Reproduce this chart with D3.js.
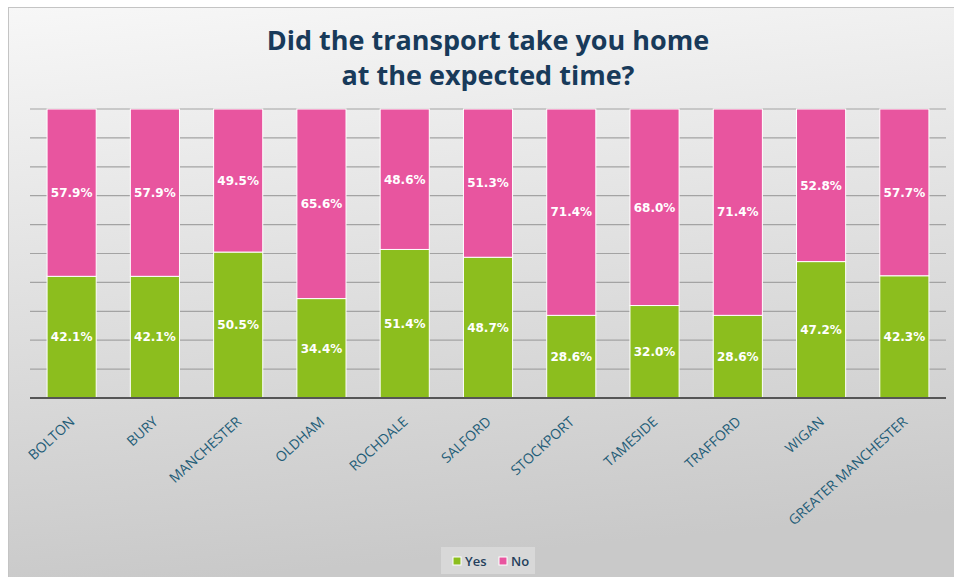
<!DOCTYPE html>
<html>
<head>
<meta charset="utf-8">
<script src="https://cdn.jsdelivr.net/npm/d3@7"></script>
<style>
  html, body { margin: 0; padding: 0; background: #fff; }
  svg { display: block; }
</style>
</head>
<body>
<div id="chart"></div>
<script>
// data
const areas = ["BOLTON", "BURY", "MANCHESTER", "OLDHAM", "ROCHDALE", "SALFORD",
  "STOCKPORT", "TAMESIDE", "TRAFFORD", "WIGAN", "GREATER MANCHESTER"];
const yesValues = [42.1, 42.1, 50.5, 34.4, 51.4, 48.7, 28.6, 32.0, 28.6, 47.2, 42.3];
const noValues = [57.9, 57.9, 49.5, 65.6, 48.6, 51.3, 71.4, 68.0, 71.4, 52.8, 57.7];
const seriesNames = ["Yes", "No"];
const seriesColors = ["#8cbe1e", "#e8559f"];
const yTicks = [0, 10, 20, 30, 40, 50, 60, 70, 80, 90, 100];

const width = 954;
const height = 577;

const svg = d3.select("#chart").append("svg")
  .attr("width", width)
  .attr("height", height);

// background gradient of the chart frame
const defs = svg.append("defs");
const grad = defs.append("linearGradient")
  .attr("id", "bg")
  .attr("x1", 0).attr("y1", 0).attr("x2", 0.15).attr("y2", 1);
grad.append("stop").attr("offset", "0%").attr("stop-color", "#f7f7f7");
grad.append("stop").attr("offset", "100%").attr("stop-color", "#c9c9c9");

svg.append("rect")
  .attr("x", 8.5).attr("y", 7.5)
  .attr("width", width).attr("height", height)
  .attr("fill", "url(#bg)")
  .attr("stroke", "#c4c4c4")
  .attr("stroke-width", 1);

// title
const title = svg.append("text")
  .attr("text-anchor", "middle")
  .attr("font-family", "Open Sans")
  .attr("font-weight", "bold")
  .attr("font-size", 27)
  .attr("fill", "#183a5a");
title.append("tspan").attr("x", 488).attr("y", 50).text("Did the transport take you home");
title.append("tspan").attr("x", 488).attr("y", 85).text("at the expected time?");

// scales
const x = d3.scaleBand()
  .domain(areas)
  .range([30, 946])
  .paddingInner(0.41)
  .paddingOuter(0.205);

const y = d3.scaleLinear()
  .domain([0, 100])
  .range([398, 109]);

// gridlines
svg.append("g")
  .selectAll("line")
  .data(yTicks.slice(1))
  .join("line")
  .attr("x1", 30).attr("x2", 946)
  .attr("y1", d => y(d)).attr("y2", d => y(d))
  .attr("stroke", "#a3a3a3")
  .attr("stroke-width", 1.2);

// stacked bars
const rows = areas.map((a, i) => ({ area: a, Yes: yesValues[i], No: noValues[i] }));
const stacked = d3.stack().keys(seriesNames)(rows);

const layers = svg.append("g")
  .selectAll("g")
  .data(stacked)
  .join("g")
  .attr("fill", (d, i) => seriesColors[i]);

layers.selectAll("rect")
  .data(d => d)
  .join("rect")
  .attr("x", d => x(d.data.area))
  .attr("width", x.bandwidth())
  .attr("y", d => y(d[1]))
  .attr("height", d => y(d[0]) - y(d[1]))
  .attr("stroke", "#fff")
  .attr("stroke-width", 1);

layers.selectAll("text")
  .data(d => d)
  .join("text")
  .attr("x", d => x(d.data.area) + x.bandwidth() / 2)
  .attr("y", d => (y(d[0]) + y(d[1])) / 2)
  .attr("dy", "0.36em")
  .attr("text-anchor", "middle")
  .attr("font-family", "DejaVu Sans")
  .attr("font-weight", "bold")
  .attr("font-size", 12)
  .attr("fill", "#fff")
  .text(d => (d[1] - d[0]).toFixed(1) + "%");

// x axis
const xAxis = svg.append("g")
  .attr("transform", "translate(0,398)")
  .call(d3.axisBottom(x).tickSize(0).tickPadding(0));

xAxis.select(".domain")
  .attr("stroke", "#555")
  .attr("stroke-width", 2)
  .attr("d", "M30,0H946");

xAxis.selectAll("text")
  .attr("font-family", "Open Sans")
  .attr("font-size", 14)
  .attr("fill", "#1f5d78")
  .attr("text-anchor", "end")
  .attr("dy", 0)
  .attr("y", 0)
  .attr("transform", "translate(4,25) rotate(-42)");

// legend
const legend = svg.append("g").attr("transform", "translate(441,547)");
legend.append("rect")
  .attr("width", 94).attr("height", 27)
  .attr("fill", "#d8d8d8");

const items = legend.selectAll("g")
  .data(seriesNames)
  .join("g")
  .attr("transform", (d, i) => `translate(${12 + i * 46},10)`);

items.append("rect")
  .attr("width", 8).attr("height", 8)
  .attr("fill", (d, i) => seriesColors[i])
  .attr("stroke", "#fff")
  .attr("stroke-width", 1);

items.append("text")
  .attr("x", 12)
  .attr("y", 9)
  .attr("font-family", "Open Sans")
  .attr("font-weight", 600)
  .attr("font-size", 13)
  .attr("fill", "#243f5c")
  .text(d => d);
</script>
</body>
</html>
